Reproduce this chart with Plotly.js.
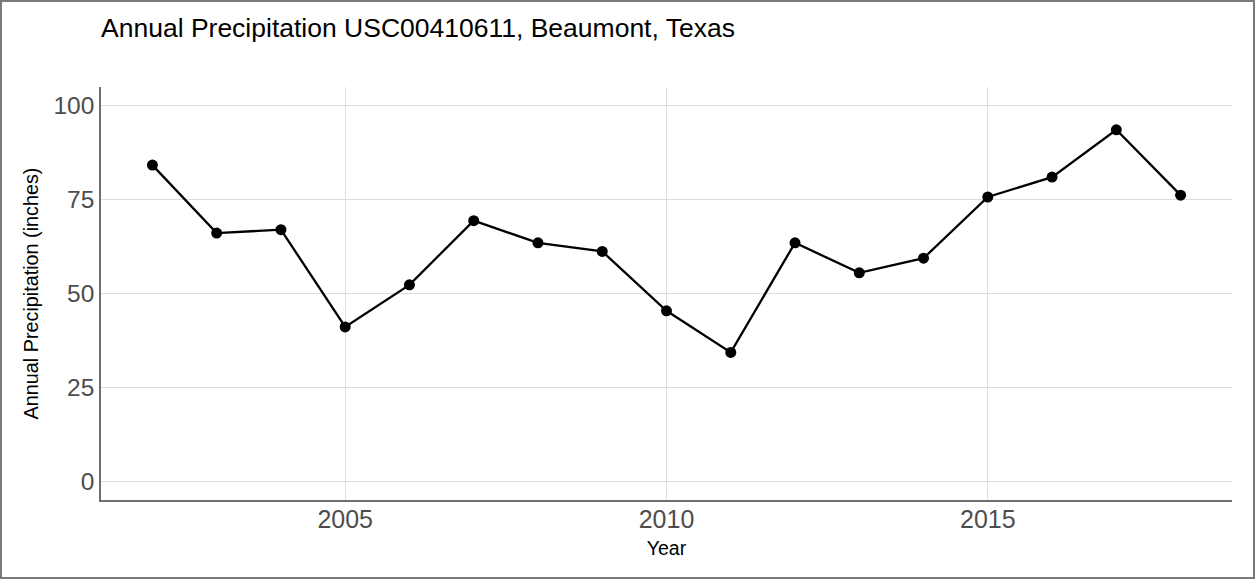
<!DOCTYPE html>
<html>
<head>
<meta charset="utf-8">
<script src="https://cdn.plot.ly/plotly-3.0.1.min.js"></script>
<style>
html,body{margin:0;padding:0;background:#fff;}
#wrap{position:relative;width:1255px;height:579px;}
#chart{width:1255px;height:579px;}
#frame{position:absolute;left:0;top:0;width:1255px;height:579px;box-sizing:border-box;border:2px solid #7a7a7a;pointer-events:none;}
</style>
</head>
<body>
<div id="wrap"><div id="chart"></div><div id="frame"></div></div>
<script>
const years = [2002,2003,2004,2005,2006,2007,2008,2009,2010,2011,2012,2013,2014,2015,2016,2017,2018];
const precip = [84.2,66.1,67.0,41.1,52.3,69.4,63.5,61.2,45.4,34.3,63.5,55.5,59.4,75.7,81.0,93.6,76.2];
const yTicks = [0,25,50,75,100];
const xTicks = [2005,2010,2015];
const FONT = "Liberation Sans, Arial, sans-serif";

const trace = {
  x: years, y: precip, type: 'scatter', mode: 'lines+markers',
  line: {color: '#000000', width: 2.3},
  marker: {color: '#000000', size: 11},
  hoverinfo: 'x+y'
};

const layout = {
  width: 1255, height: 579,
  margin: {l: 101, r: 23, t: 87, b: 79},
  paper_bgcolor: '#ffffff', plot_bgcolor: '#ffffff',
  showlegend: false,
  title: {
    text: 'Annual Precipitation USC00410611, Beaumont, Texas',
    font: {family: FONT, size: 26.5, color: '#000000'},
    x: 101/1255, xref: 'container', xanchor: 'left',
    y: 1 - 28/579, yref: 'container', yanchor: 'middle'
  },
  xaxis: {
    range: [2001.2, 2018.8],
    tickvals: xTicks, ticktext: xTicks.map(String),
    showgrid: true, gridcolor: '#dedede', gridwidth: 1,
    zeroline: false, showline: true, linecolor: '#6e6e6e', linewidth: 1.5,
    ticks: '', ticklabelstandoff: -4,
    tickfont: {family: FONT, size: 25, color: '#4d4d4d'},
    title: {text: 'Year', font: {family: FONT, size: 19.5, color: '#000000'}, standoff: 10},
    automargin: false
  },
  yaxis: {
    range: [-5, 105],
    tickvals: yTicks, ticktext: yTicks.map(String),
    showgrid: true, gridcolor: '#dedede', gridwidth: 1.3,
    zeroline: false, showline: true, linecolor: '#6e6e6e', linewidth: 1.5,
    ticks: '', tickfont: {family: FONT, size: 24.5, color: '#4d4d4d'},
    title: {text: 'Annual Precipitation (inches)', font: {family: FONT, size: 19.8, color: '#000000'}, standoff: 10},
    automargin: false
  }
};

Plotly.newPlot('chart', [trace], layout, {displayModeBar: false});
</script>
</body>
</html>
